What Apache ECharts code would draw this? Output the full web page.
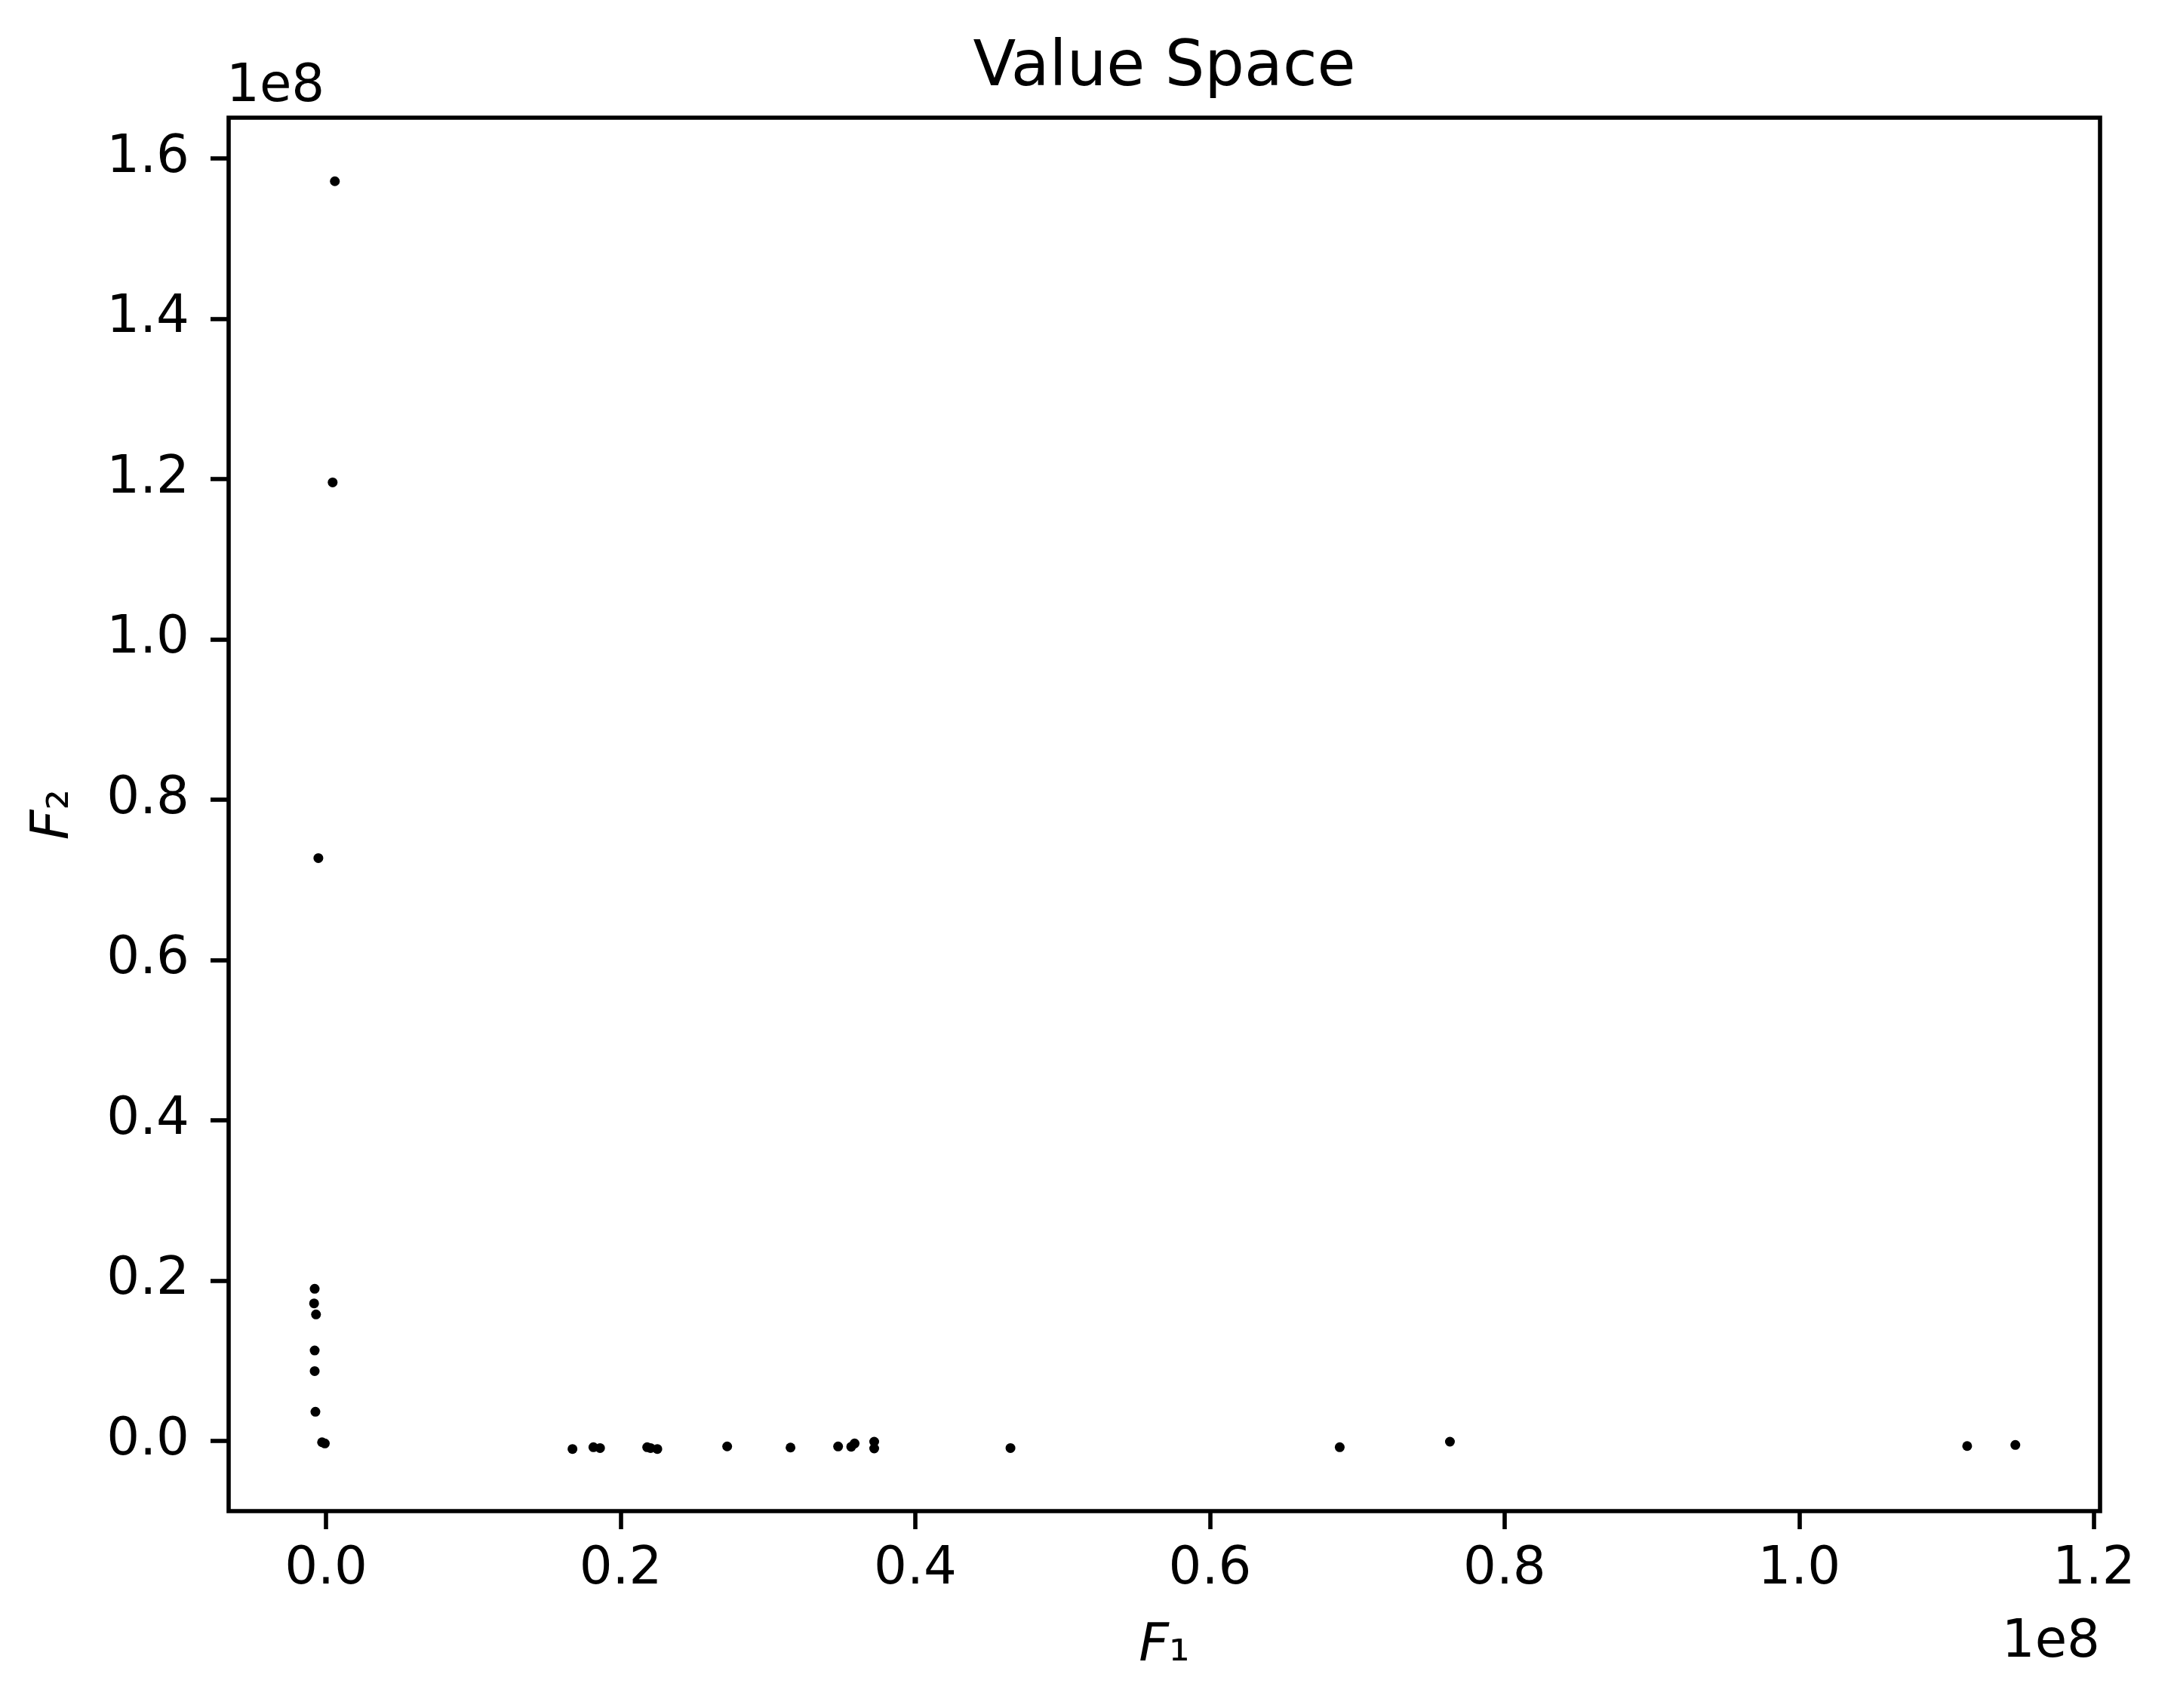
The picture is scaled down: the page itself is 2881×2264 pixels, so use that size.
<!DOCTYPE html>
<html>
<head>
<meta charset="utf-8">
<script src="https://cdn.jsdelivr.net/npm/echarts@6/dist/echarts.min.js"></script>
<style>
html, body { margin: 0; padding: 0; background: #fff; }
#chart { width: 2881px; height: 2264px; }
</style>
</head>
<body>
<div id="chart"></div>
<script>
// ---- data (values in raw units; axis labels are shown in units of 1e8) ----
const f1Values = [6.0e5, 4.5e5, -5.2e5, -7.7e5, -8.1e5, -6.8e5, -7.7e5, -7.7e5, -7.2e5, -2.7e5, -0.8e5,
  1.673e7, 1.815e7, 1.860e7, 2.180e7, 2.203e7, 2.249e7, 2.723e7, 3.153e7, 3.476e7, 3.565e7, 3.588e7,
  3.721e7, 3.721e7, 4.646e7, 6.881e7, 7.629e7, 1.1140e8, 1.1467e8];
const f2Values = [1.5715e8, 1.1958e8, 7.271e7, 1.898e7, 1.716e7, 1.578e7, 1.129e7, 8.72e6, 3.64e6, -1.6e5, -3.1e5,
  -1.0e6, -7.8e5, -8.8e5, -7.8e5, -8.8e5, -1.0e6, -6.8e5, -8.2e5, -6.9e5, -7.2e5, -3.1e5,
  -0.9e5, -9.4e5, -8.8e5, -7.8e5, -0.9e5, -6.3e5, -5.0e5];
const xTickValues = [0, 2e7, 4e7, 6e7, 8e7, 1e8, 1.2e8];
const xTickLabels = ['0.0', '0.2', '0.4', '0.6', '0.8', '1.0', '1.2'];
const yTickValues = [0, 2e7, 4e7, 6e7, 8e7, 1e8, 1.2e8, 1.4e8, 1.6e8];
const yTickLabels = ['0.0', '0.2', '0.4', '0.6', '0.8', '1.0', '1.2', '1.4', '1.6'];
const titleText = 'Value Space';
const offsetText = '1e8';

const points = f1Values.map((x, i) => [x, f2Values[i]]);
const FONT = 'DejaVu Sans';
const labelFrom = (vals, labs) => (v) => {
  const i = vals.findIndex(t => Math.abs(t - v) < 1);
  return i >= 0 ? labs[i] : '';
};

const chart = echarts.init(document.getElementById('chart'), null, { renderer: 'canvas' });
chart.setOption({
  animation: false,
  backgroundColor: '#ffffff',
  grid: {
    left: 303, top: 156, right: 98, bottom: 261,
    show: true, borderColor: '#000', borderWidth: 5.6, backgroundColor: 'transparent'
  },
  xAxis: {
    type: 'value',
    min: -6.61e6, max: 1.2042e8,
    splitLine: { show: false },
    axisLine: { show: false, onZero: false },
    axisTick: { show: true, length: 24, lineStyle: { color: '#000', width: 5.6 }, customValues: xTickValues },
    axisLabel: {
      customValues: xTickValues,
      formatter: labelFrom(xTickValues, xTickLabels),
      fontFamily: FONT, fontSize: 69, color: '#000', margin: 44
    },
    name: '{i|F}{s|₁}',
    nameLocation: 'middle',
    nameGap: 146,
    nameTextStyle: {
      rich: {
        i: { fontFamily: FONT, fontStyle: 'italic', fontSize: 69, color: '#000' },
        s: { fontFamily: FONT, fontSize: 69, color: '#000' }
      }
    }
  },
  yAxis: {
    type: 'value',
    min: -8.75e6, max: 1.6508e8,
    splitLine: { show: false },
    axisLine: { show: false, onZero: false },
    axisTick: { show: true, length: 24, lineStyle: { color: '#000', width: 5.6 }, customValues: yTickValues },
    axisLabel: {
      customValues: yTickValues,
      formatter: labelFrom(yTickValues, yTickLabels),
      fontFamily: FONT, fontSize: 69, color: '#000', margin: 52
    },
    name: '{i|F}{s|₂}',
    nameLocation: 'middle',
    nameGap: 196,
    nameRotate: 90,
    nameTextStyle: {
      rich: {
        i: { fontFamily: FONT, fontStyle: 'italic', fontSize: 69, color: '#000' },
        s: { fontFamily: FONT, fontSize: 69, color: '#000' }
      }
    }
  },
  series: [{
    type: 'scatter',
    data: points,
    symbol: 'circle',
    symbolSize: 13,
    itemStyle: { color: '#000', opacity: 1 },
    silent: true
  }],
  graphic: [
    { type: 'text', x: 1543, y: 91, style: { text: titleText, font: '83px "DejaVu Sans"', fill: '#000', textAlign: 'center', textVerticalAlign: 'middle' } },
    { type: 'text', x: 300, y: 116, style: { text: offsetText, font: '69px "DejaVu Sans"', fill: '#000', textAlign: 'left', textVerticalAlign: 'middle' } },
    { type: 'text', x: 2783, y: 2178, style: { text: offsetText, font: '69px "DejaVu Sans"', fill: '#000', textAlign: 'right', textVerticalAlign: 'middle' } }
  ]
});
</script>
</body>
</html>
